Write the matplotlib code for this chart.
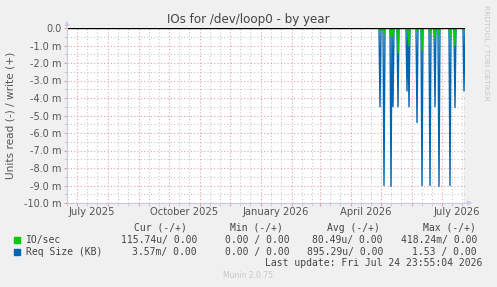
import datetime as dt
import numpy as np
import matplotlib
matplotlib.use("Agg")
import matplotlib.pyplot as plt
import matplotlib.dates as mdates
from matplotlib.ticker import MultipleLocator, FuncFormatter

# --- data (read side, values in milli-units) ---
spike_days = ["2026-04-30", "2026-05-04", "2026-05-11", "2026-05-13", "2026-05-18",
              "2026-05-27", "2026-05-29", "2026-06-06", "2026-06-11", "2026-06-19",
              "2026-06-24", "2026-06-28", "2026-07-09", "2026-07-14", "2026-07-23"]
req_size_read = [4.5, 9.0, 9.05, 4.5, 4.5, 3.6, 4.5, 5.4, 9.0, 9.0, 4.5, 9.05, 9.0, 4.55, 3.6]
io_sec_read = [0.2, 0.3, 0.5, 0.5, 1.45, 0.1, 1.0, 0.2, 1.25, 0.3, 0.6, 0.4, 0.5, 1.0, 0.1]

start = dt.date(2025, 6, 21)
end = dt.date(2026, 7, 24)

legend_rows = [
    ("IO/sec", "#00CC00", "115.74u/ 0.00", "0.00 / 0.00", "80.49u/ 0.00", "418.24m/ 0.00"),
    ("Req Size (KB)", "#0066B3", "3.57m/ 0.00", "0.00 / 0.00", "895.29u/ 0.00", "1.53 / 0.00"),
]
headers = ["Cur (-/+)", "Min (-/+)", "Avg (-/+)", "Max (-/+)"]
month_labels = ["July 2025", "October 2025", "January 2026", "April 2026", "July 2026"]

# daily series, zero on days without activity
days = [start + dt.timedelta(d) for d in range((end - start).days + 1)]
req = dict(zip(spike_days, req_size_read))
ios = dict(zip(spike_days, io_sec_read))
req_vals = np.array([-req.get(d.isoformat(), 0.0) for d in days])
io_vals = np.array([-ios.get(d.isoformat(), 0.0) for d in days])

W, H = 497, 287
fig = plt.figure(figsize=(W / 100, H / 100), dpi=100, facecolor="#F0F0F0")
ax = fig.add_axes([67 / W, 1 - 203 / H, (465 - 67) / W, (203 - 28) / H])
ax.set_facecolor("white")

ax.set_xlim(mdates.date2num(start), mdates.date2num(end))
ax.set_ylim(-10, 0)

# grid
red = "#E6A0A0"
grey = "#C8C8C8"
ax.yaxis.set_major_locator(MultipleLocator(1.0))
ax.yaxis.set_minor_locator(MultipleLocator(0.5))
ax.xaxis.set_major_locator(mdates.MonthLocator())
ax.xaxis.set_minor_locator(mdates.DayLocator(bymonthday=[11, 21]))
ax.grid(which="major", color=red, linestyle=(0, (1, 2)), linewidth=0.8)
ax.grid(which="minor", color=grey, linestyle=(0, (1, 2)), linewidth=0.8)
ax.set_axisbelow(True)

ax.yaxis.set_major_formatter(FuncFormatter(lambda v, p: "0.0" if abs(v) < 1e-9 else f"{v:.1f} m"))
ax.xaxis.set_major_formatter(FuncFormatter(lambda v, p: ""))
ax.tick_params(axis="both", which="major", length=2, color=red, labelsize=7,
               labelcolor="#555555", pad=2)
ax.tick_params(axis="both", which="minor", length=2, color=grey)

# month labels centered mid-month
for lab in month_labels:
    d = dt.datetime.strptime(lab, "%B %Y").date().replace(day=16)
    ax.text(mdates.date2num(d), -10.25, lab, ha="center", va="top", fontsize=7.2,
            color="#555555", clip_on=False)

for s in ["top", "right"]:
    ax.spines[s].set_visible(False)
ax.spines["left"].set_color("#C8C8E8")
ax.spines["bottom"].set_color("#C8C8E8")
ax.annotate("", xy=(67 / W, 1 - 18 / H), xytext=(67 / W, 1 - 30 / H), xycoords="figure fraction",
            arrowprops=dict(arrowstyle="-|>", color="#C8C8F0", lw=0.8, mutation_scale=6))
ax.annotate("", xy=(475 / W, 1 - 203 / H), xytext=(463 / W, 1 - 203 / H), xycoords="figure fraction",
            arrowprops=dict(arrowstyle="-|>", color="#C8C8F0", lw=0.8, mutation_scale=6))
ax.axvline(mdates.date2num(end), color="#A0A0A0", lw=1)

x = mdates.date2num(days)
ax.plot(x, req_vals, color="#0066B3", lw=1.0)
ax.plot(x, io_vals, color="#00CC00", lw=1.0)
ax.axhline(0, color="black", lw=1.0)

# titles / labels
fig.text(248 / W, 1 - 19 / H, "IOs for /dev/loop0 - by year", ha="center", va="center",
         fontsize=8.6, color="#444444")
fig.text(11 / W, 1 - 115 / H, "Units read (-) / write (+)", rotation=90, ha="center",
         va="center", fontsize=7.6, color="#555555")
fig.text(486 / W, 1 - 53 / H, "RRDTOOL / TOBI OETIKER", rotation=270, ha="center",
         va="center", fontsize=5.4, color="#C8C8C8")

# legend block
mono = "DejaVu Sans Mono"
hx = [187, 283, 380, 476]
for h, xx in zip(headers, hx):
    fig.text(xx / W, 1 - 228 / H, h, ha="right", va="center", family=mono, fontsize=7, color="#444444")
col_ends = [197, 290, 383, 477]
for i, row in enumerate(legend_rows):
    y = 1 - (240 + 12 * i) / H
    fig.patches.append(plt.Rectangle((14 / W, y - 3 / H), 6 / W, 6 / H, transform=fig.transFigure,
                                     color=row[1]))
    fig.text(26 / W, y, row[0], ha="left", va="center", family=mono, fontsize=7, color="#444444")
    for val, xx in zip(row[2:], col_ends):
        fig.text(xx / W, y, val, ha="right", va="center", family=mono, fontsize=7, color="#444444")
fig.text(482 / W, 1 - 263 / H, "Last update: Fri Jul 24 23:55:04 2026", ha="right", va="center",
         family=mono, fontsize=7, color="#444444")
fig.text(248 / W, 1 - 276 / H, "Munin 2.0.75", ha="center", va="center", fontsize=5.5,
         color="#C8C8C8")

fig.savefig("out.png", dpi=100, facecolor=fig.get_facecolor())
